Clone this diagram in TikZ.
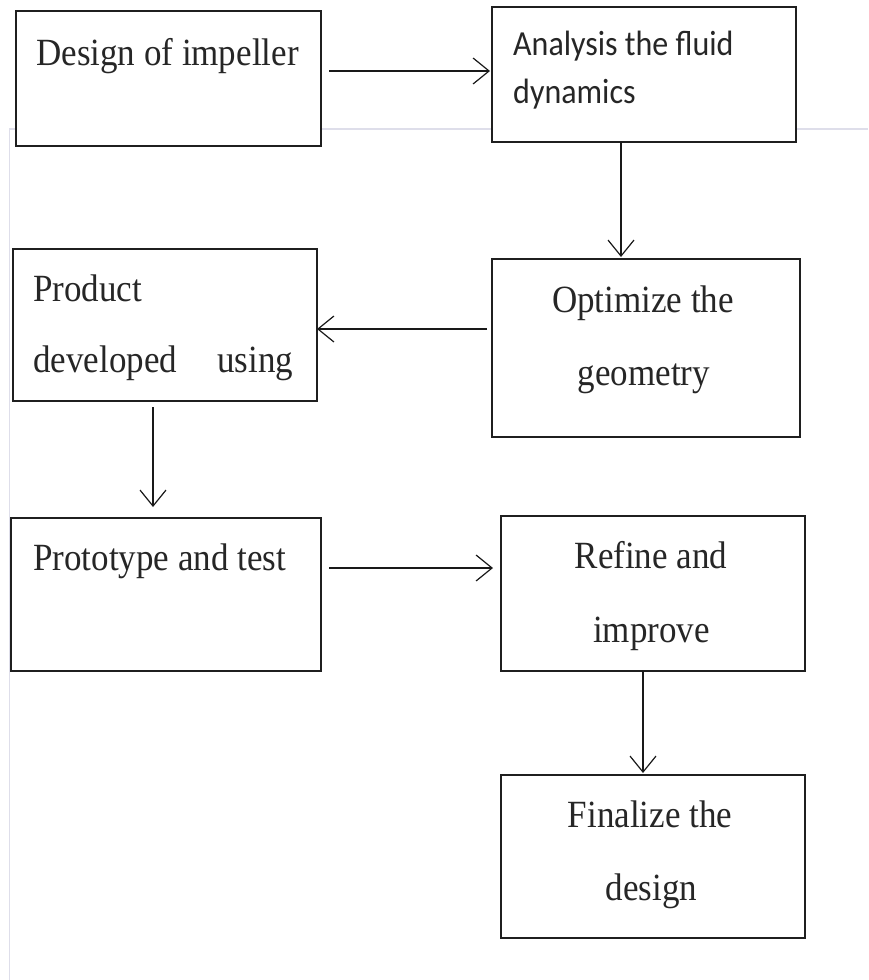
\documentclass[tikz,border=0pt]{standalone}
\usepackage{fontspec}
\setmainfont{Liberation Serif}
\newfontfamily\calib{Carlito}
\usetikzlibrary{arrows.meta}
\definecolor{faint}{RGB}{222,222,234}
\newcommand{\vst}[1]{\scalebox{1}[1.1]{#1}}
\begin{document}
\begin{tikzpicture}[x=1pt,y=-1pt,
  box/.style={draw=black!88, fill=white, line width=1.3pt, inner sep=0pt, outer sep=0pt},
  txt/.style={anchor=base west, inner sep=0pt, font=\fontsize{35}{42}\selectfont, text=black!85},
  ctxt/.style={anchor=base, inner sep=0pt, font=\fontsize{35}{42}\selectfont, text=black!85},
  stxt/.style={anchor=base west, inner sep=0pt, font=\calib\fontsize{32}{38}\selectfont, text=black!85},
  arr/.style={line width=1.2pt, draw=black!90, -{Straight Barb[length=16pt,width=26pt,line width=1.2pt]}}]
\fill[white] (0,0) rectangle (868,980);
\useasboundingbox (0,0) rectangle (868,980);
\draw[faint, line width=1.6pt] (868,129) -- (9.5,129) -- (9.5,980);

\node[box, minimum width=305pt, minimum height=135pt] (b1) at (168.5,78.5) {};
\node[box, minimum width=304pt, minimum height=135pt] (b2) at (644,74.5) {};
\node[box, minimum width=308pt, minimum height=178pt] (b3) at (646,348) {};
\node[box, minimum width=304pt, minimum height=152pt] (b4) at (165,325) {};
\node[box, minimum width=310pt, minimum height=153pt] (b5) at (166,594.5) {};
\node[box, minimum width=304pt, minimum height=155pt] (b6) at (653,593.5) {};
\node[box, minimum width=304pt, minimum height=163pt] (b7) at (653,856.5) {};

\node[txt] (t1) at (36,65) {\vst{Design of impeller}};
\node[stxt] (t2a) at (513,55) {\vst{Analysis the fluid}};
\node[stxt] (t2b) at (513,103) {\vst{dynamics}};
\node[ctxt] (t3a) at (643,312) {\vst{Optimize the}};
\node[ctxt] (t3b) at (644,385) {\vst{geometry}};
\node[txt] (t4a) at (33,301) {\vst{Product}};
\node[txt] (t4b) at (33,372) {\vst{\makebox[260pt][l]{developed\hfill using}}};
\node[txt] (t5) at (33,570) {\vst{Prototype and test}};
\node[ctxt] (t6a) at (651,568) {\vst{Refine and}};
\node[ctxt] (t6b) at (651.5,642) {\vst{improve}};
\node[ctxt] (t7a) at (650,827) {\vst{Finalize the}};
\node[ctxt] (t7b) at (651.5,900) {\vst{design}};

\coordinate (a1s) at (329,71);
\coordinate (a2s) at (621,142);
\coordinate (a3s) at (487,329);
\coordinate (a4s) at (153,407);
\coordinate (a5s) at (329,568);
\coordinate (a6s) at (643,671);

\draw[arr, shorten >=2pt] (a1s) -- (a1s -| b2.west);
\draw[arr, shorten >=2pt] (a2s) -- (a2s |- b3.north);
\draw[arr] (a3s) -- (a3s -| b4.east);
\draw[arr, shorten >=11pt] (a4s) -- (a4s |- b5.north);
\draw[arr, shorten >=8pt] (a5s) -- (a5s -| b6.west);
\draw[arr, shorten >=2pt] (a6s) -- (a6s |- b7.north);
\end{tikzpicture}
\end{document}
